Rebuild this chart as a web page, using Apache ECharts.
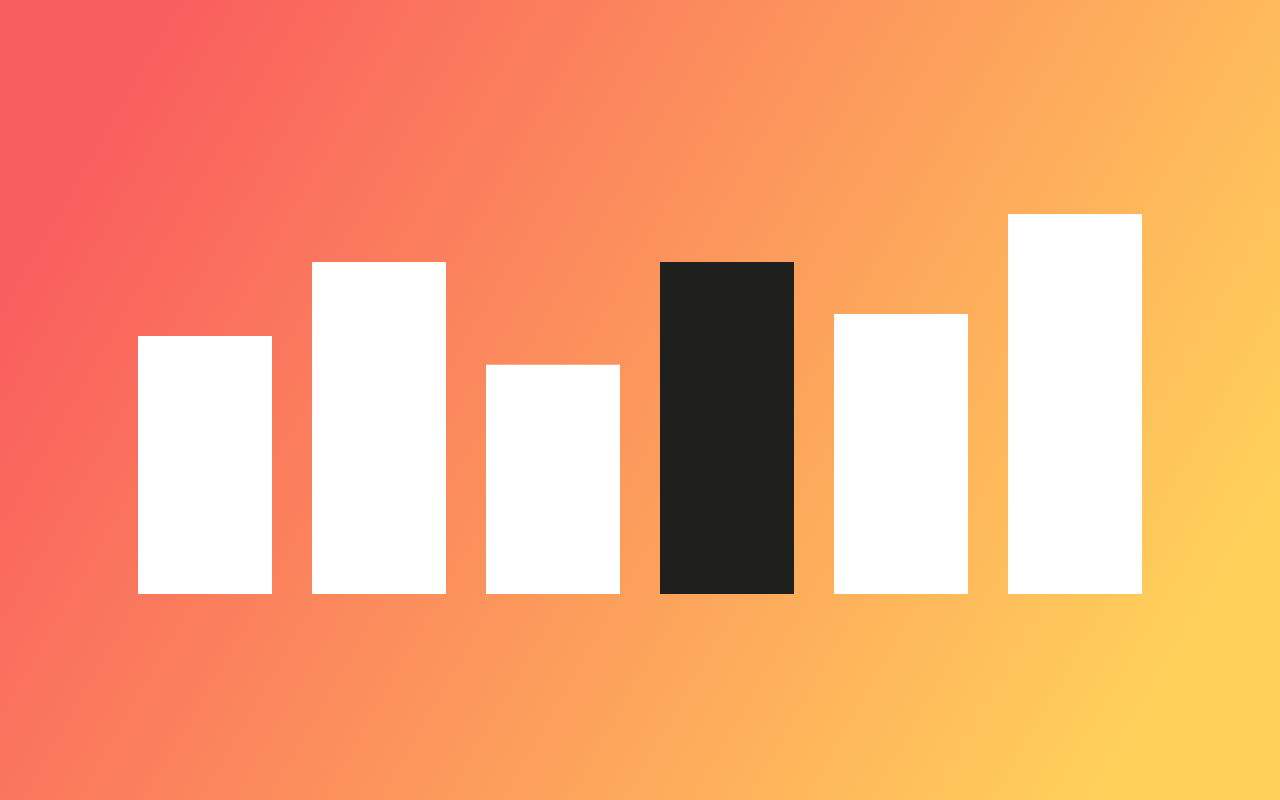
<!DOCTYPE html>
<html>
<head>
<meta charset="utf-8">
<script src="https://cdn.jsdelivr.net/npm/echarts@6/dist/echarts.min.js"></script>
<style>
    html, body { margin: 0; padding: 0; }
    #main {
        width: 1280px;
        height: 800px;
        background: linear-gradient(120deg, #F95E5E 10%, #FFD15A 90%);
    }
</style>
</head>
<body>
<div id="main"></div>
<script>
    // data
    var categories = ['A', 'B', 'C', 'D', 'E', 'F'];
    var values = [67.9, 87.4, 60.3, 87.4, 73.7, 100];
    var barColors = ['#ffffff', '#ffffff', '#ffffff', '#1f1f1d', '#ffffff', '#ffffff'];

    var myChart = echarts.init(document.getElementById('main'));

    var seriesData = [];
    for (var i = 0; i < values.length; i++) {
        seriesData.push({
            value: values[i],
            itemStyle: { color: barColors[i] }
        });
    }

    var option = {
        backgroundColor: 'transparent',
        animation: false,
        grid: {
            left: 118,
            right: 118,
            top: 214,
            bottom: 206
        },
        xAxis: {
            type: 'category',
            data: categories,
            show: false
        },
        yAxis: {
            type: 'value',
            min: 0,
            max: 100,
            show: false
        },
        series: [{
            type: 'bar',
            data: seriesData,
            barCategoryGap: '23%'
        }]
    };
    myChart.setOption(option);
</script>
</body>
</html>
